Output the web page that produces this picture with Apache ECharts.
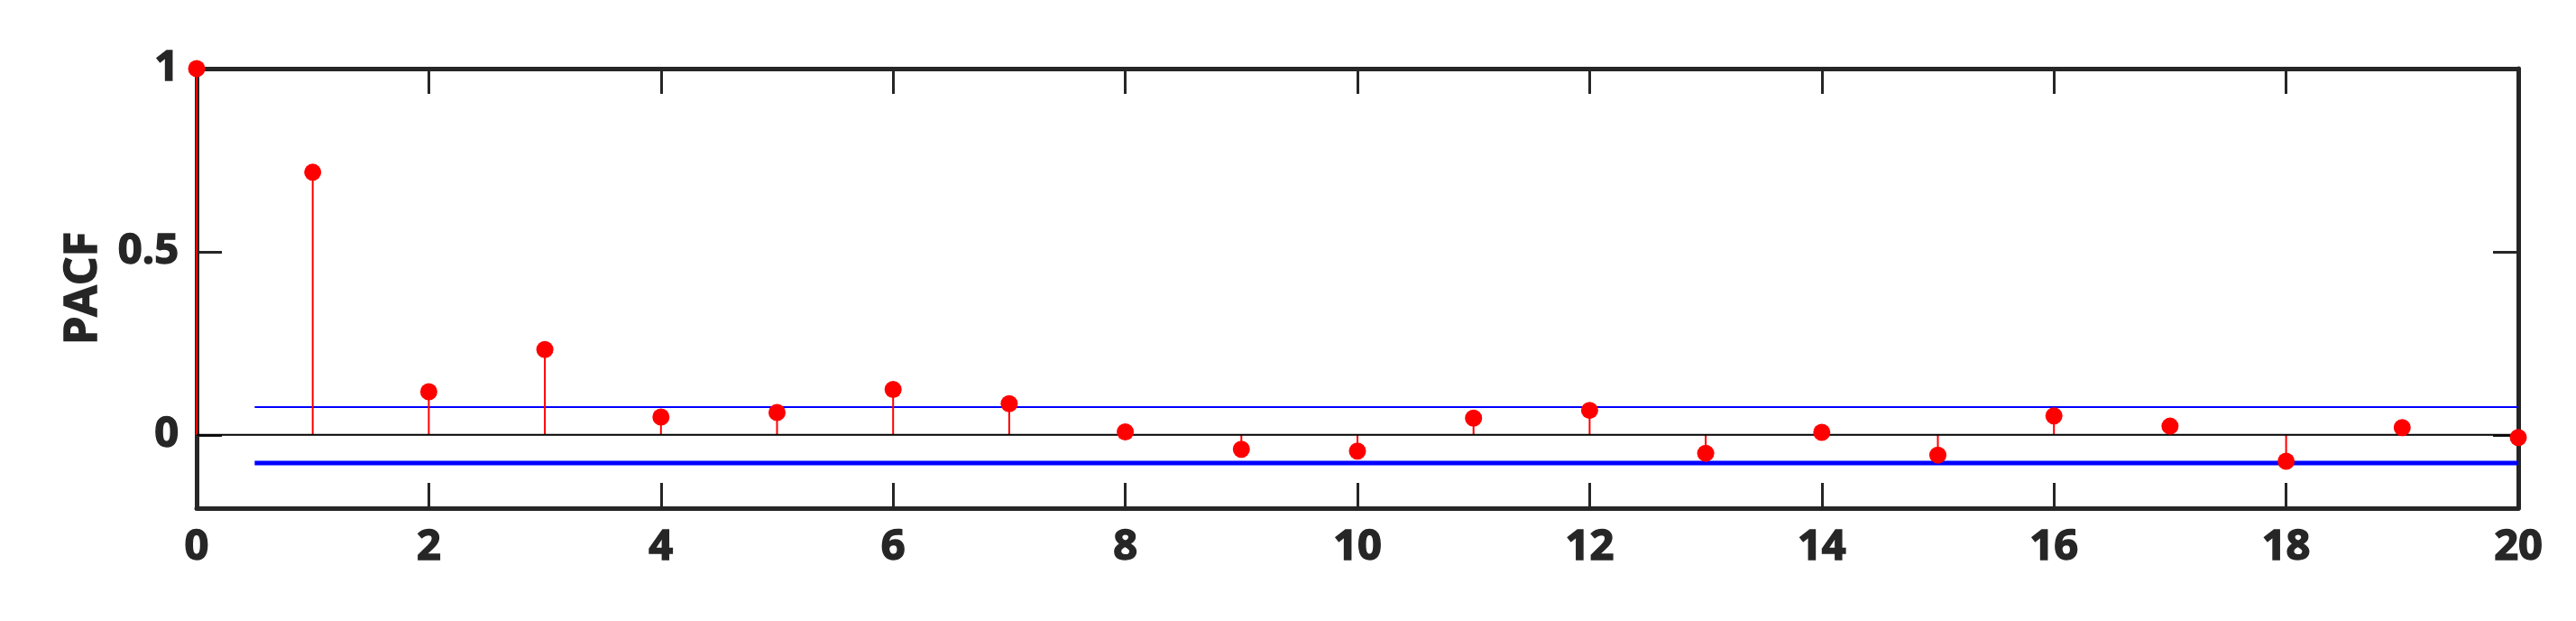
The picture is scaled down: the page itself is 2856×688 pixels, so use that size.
<!DOCTYPE html>
<html>
<head>
<meta charset="utf-8">
<script src="https://cdn.jsdelivr.net/npm/echarts@6/dist/echarts.min.js"></script>
<style>
  html, body { margin: 0; padding: 0; background: #fff; }
  #chart { width: 2856px; height: 688px; }
</style>
</head>
<body>
<div id="chart"></div>
<script>
// lags and partial autocorrelation values
const lags = [0, 1, 2, 3, 4, 5, 6, 7, 8, 9, 10, 11, 12, 13, 14, 15, 16, 17, 18, 19, 20];
const pacf = [1, 0.717, 0.118, 0.233, 0.049, 0.061, 0.124, 0.085, 0.008, -0.039, -0.044,
  0.046, 0.067, -0.050, 0.007, -0.055, 0.052, 0.024, -0.072, 0.020, -0.007];
// confidence bounds, drawn from lag 0.5 to 20
const boundRange = [0.5, 20];
const upperBound = 0.076;
const lowerBound = -0.077;
const xTicks = [0, 2, 4, 6, 8, 10, 12, 14, 16, 18, 20];
const yTicks = [0, 0.5, 1];

const axisColor = '#262626';
const font = 'Open Sans';

const points = lags.map((l, i) => [l, pacf[i]]);

const chart = echarts.init(document.getElementById('chart'));

// bold text, a little heavier like the original
const labelStyle = {
  color: axisColor, fontFamily: font, fontWeight: 'bold', fontSize: 47,
  textBorderColor: axisColor, textBorderWidth: 1.5
};
const tickStyle = (vals) => ({
  show: true, inside: true, length: 28, customValues: vals,
  lineStyle: { color: axisColor, width: 3 }
});

const frameAxis = (extra) => Object.assign({
  type: 'value',
  axisLine: { show: true, onZero: false, lineStyle: { color: axisColor, width: 5 } },
  splitLine: { show: false }
}, extra);

const option = {
  animation: false,
  backgroundColor: '#fff',
  grid: { left: 218, right: 64, top: 76, bottom: 125 },
  xAxis: [
    frameAxis({
      min: 0, max: 20, interval: 2, position: 'bottom',
      axisLabel: Object.assign({ margin: 20, customValues: xTicks }, labelStyle),
      axisTick: tickStyle(xTicks)
    }),
    frameAxis({
      min: 0, max: 20, interval: 2, position: 'top',
      axisLabel: { show: false },
      axisTick: tickStyle(xTicks)
    })
  ],
  yAxis: [
    frameAxis({
      min: -0.2, max: 1, position: 'left',
      name: 'PACF', nameLocation: 'middle', nameGap: 100,
      nameTextStyle: Object.assign({}, labelStyle, { fontSize: 50 }),
      axisLabel: Object.assign({ margin: 20, customValues: yTicks }, labelStyle),
      axisTick: tickStyle(yTicks)
    }),
    frameAxis({
      min: -0.2, max: 1, position: 'right',
      axisLabel: { show: false },
      axisTick: tickStyle(yTicks)
    })
  ],
  series: [
    {
      name: 'upper',
      type: 'line',
      data: boundRange.map(x => [x, upperBound]),
      symbol: 'none',
      lineStyle: { color: '#0000ff', width: 2 },
      z: 3
    },
    {
      name: 'lower',
      type: 'line',
      data: boundRange.map(x => [x, lowerBound]),
      symbol: 'none',
      lineStyle: { color: '#0000ff', width: 5 },
      z: 3
    },
    {
      name: 'stems',
      type: 'custom',
      clip: false,
      renderItem: (params, api) => {
        const top = api.coord([api.value(0), api.value(1)]);
        const base = api.coord([api.value(0), 0]);
        return {
          type: 'line',
          shape: { x1: base[0], y1: base[1], x2: top[0], y2: top[1] },
          style: { stroke: '#ff0000', lineWidth: 2 }
        };
      },
      data: points,
      z: 4
    },
    {
      name: 'baseline',
      type: 'line',
      data: [[lags[0], 0], [lags[lags.length - 1], 0]],
      symbol: 'none',
      lineStyle: { color: '#000', width: 2 },
      z: 5
    },
    {
      name: 'PACF',
      type: 'scatter',
      data: points,
      symbolSize: 19,
      clip: false,
      itemStyle: { color: '#ff0000', opacity: 1 },
      z: 6
    }
  ]
};

chart.setOption(option);
</script>
</body>
</html>
